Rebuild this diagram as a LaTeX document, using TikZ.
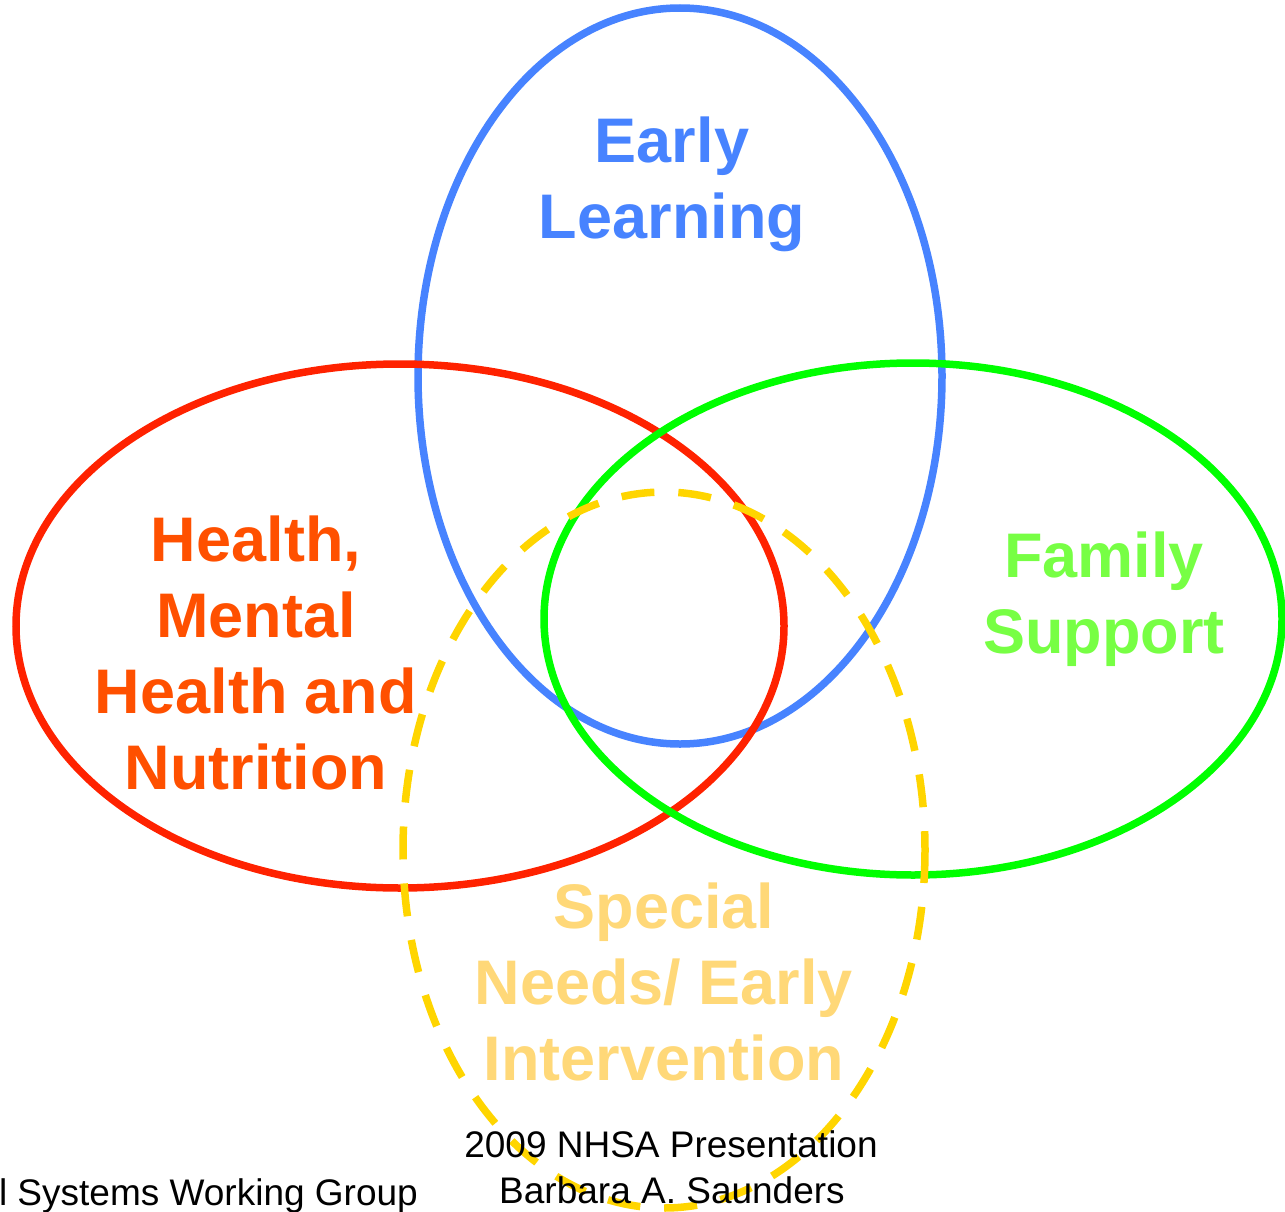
\documentclass[tikz,border=0pt]{standalone}
\usepackage{fontspec}
\setmainfont{Liberation Sans}
\usetikzlibrary{positioning}
\definecolor{learnblue}{HTML}{4783FF}
\definecolor{healthred}{HTML}{FF2200}
\definecolor{healthtext}{HTML}{FF5000}
\definecolor{familygreen}{HTML}{00FF00}
\definecolor{familytext}{HTML}{77FF44}
\definecolor{specialyellow}{HTML}{FFD500}
\definecolor{specialtext}{HTML}{FFD878}
\tikzstyle{RingLine}=[line width=7.5pt]
\tikzstyle{AreaLabel}=[inner sep=0pt, align=center, font=\fontsize{63}{76}\selectfont\bfseries]
\tikzstyle{FootNote}=[inner sep=0pt, anchor=base, font=\fontsize{37}{46}\selectfont]

\begin{document}
\begin{tikzpicture}[x=1pt, y=-1pt]
    \useasboundingbox (0,0) rectangle (1285,1212);

    % the four rings
    \draw [RingLine, learnblue] (680,376) ellipse [x radius=262, y radius=368];
    \draw [RingLine, healthred] (400,626) ellipse [x radius=384, y radius=262];
    \draw [RingLine, familygreen] (913,619) ellipse [x radius=369, y radius=256];
    \draw [RingLine, specialyellow, dash pattern=on 33pt off 24pt] (664,850) ellipse [x radius=261, y radius=358];

    \node (learning) [AreaLabel, text=learnblue] at (672,184) {Early\\Learning};
    \node (health) [AreaLabel, text=healthtext] at (256,653) {Health,\\Mental\\Health and\\Nutrition};
    \node (family) [AreaLabel, text=familytext] at (1104,599) {Family\\Support};
    \node (special) [AreaLabel, text=specialtext] at (664,982) {Special\\Needs/ Early\\Intervention};

    \node (group) [FootNote, anchor=base east] at (418,1205) {l Systems Working Group};
    \node (presentation) [FootNote] at (671,1157) {2009 NHSA Presentation};
    \node (author) [FootNote] at (672,1203) {Barbara A. Saunders};
\end{tikzpicture}
\end{document}
